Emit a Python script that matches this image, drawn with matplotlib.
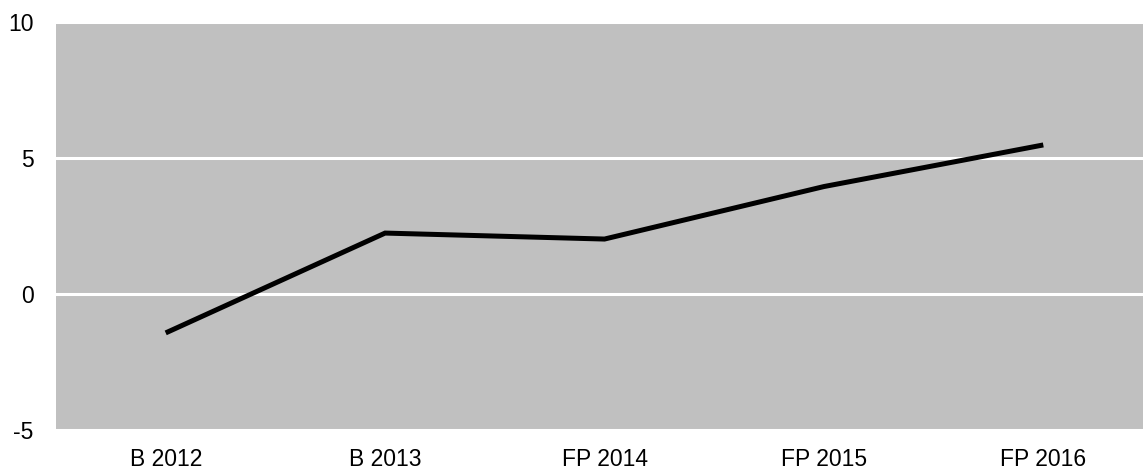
import matplotlib
matplotlib.use("Agg")
import matplotlib.pyplot as plt

# data
categories = ["B 2012", "B 2013", "FP 2014", "FP 2015", "FP 2016"]
values = [-1.43, 2.24, 2.02, 3.95, 5.48]
y_ticks = [-5, 0, 5, 10]

plt.rcParams['font.family'] = ['Liberation Sans', 'DejaVu Sans']

W, H = 1143, 470
fig = plt.figure(figsize=(W / 100, H / 100), dpi=100)

# axes in pixels; right edge runs a little past the figure like the original
left, right, top, bottom = 56, 1153, 22, 430
ax = fig.add_axes([left / W, 1 - bottom / H, (right - left) / W, (bottom - top) / H])
ax.set_facecolor("#c0c0c0")

ax.plot(range(len(categories)), values, color="black", lw=3.6,
        solid_capstyle="butt", solid_joinstyle="miter", zorder=3)

ax.set_xlim(-0.5, len(categories) - 0.5)
ax.set_ylim(-5, 10)
ax.set_yticks(y_ticks)
ax.set_yticklabels([str(v) for v in y_ticks])
ax.set_xticks(range(len(categories)))
ax.set_xticklabels(categories)

ax.grid(axis="y", color="white", lw=2.2)
ax.set_axisbelow(True)
for s in ax.spines.values():
    s.set_visible(False)

ax.tick_params(axis="both", length=0, labelsize=16.5, colors="black")
ax.tick_params(axis="y", pad=16)
ax.tick_params(axis="x", pad=13)

fig.savefig("out.png", dpi=100)
